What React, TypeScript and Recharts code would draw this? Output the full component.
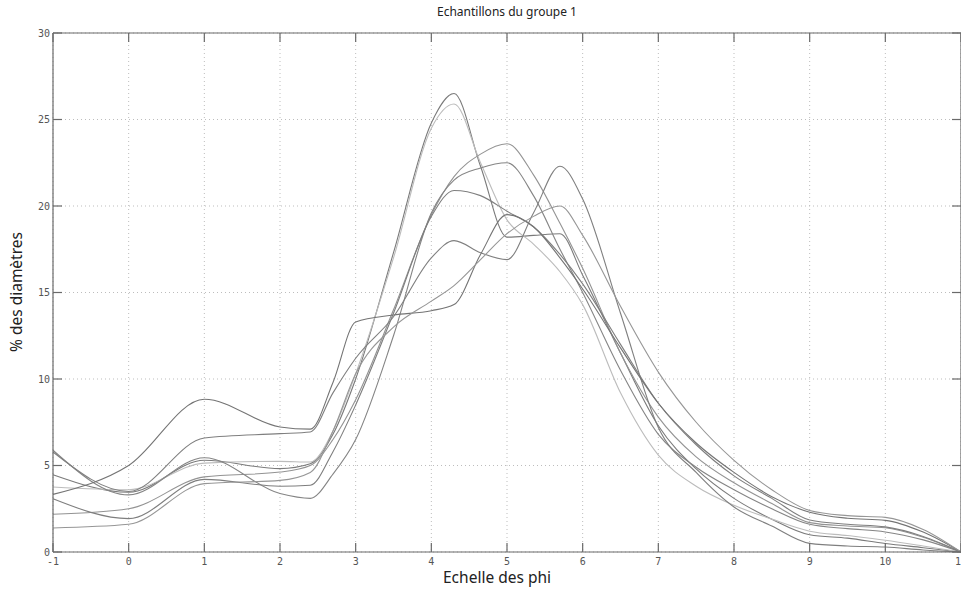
import { LineChart, Line, XAxis, YAxis, CartesianGrid, ReferenceLine } from "recharts"

// échelle des phi (points communs à tous les échantillons)
const PHI = [-1, 0, 1, 2, 2.4, 2.7, 3, 3.5, 4, 4.3, 4.65, 5, 5.35, 5.7, 6, 6.5, 7, 7.5, 8, 8.5, 9, 9.5, 10, 10.5, 11]

const X_TICKS = [-1, 0, 1, 2, 3, 4, 5, 6, 7, 8, 9, 10, 11]
const Y_TICKS = [0, 5, 10, 15, 20, 25, 30]

// % des diamètres, un tableau par échantillon
const S1 = [4.47, 3.45, 5.3, 4.82, 5.1, 6.8, 10.0, 17.3, 24.8, 26.5, 22.3, 18.2, 18.3, 18.4, 16.0, 11.5, 7.3, 4.8, 3.1, 1.9, 1.0, 0.8, 0.49, 0.25, 0]
const S2 = [3.76, 3.6, 5.14, 5.24, 5.2, 7.0, 10.3, 17.0, 24.5, 25.9, 22.5, 19.2, 17.8, 16.2, 14.3, 9.2, 5.6, 3.8, 2.7, 1.9, 1.2, 0.95, 0.68, 0.35, 0]
const S3 = [2.18, 2.5, 4.34, 4.62, 5.0, 6.5, 8.8, 14.0, 19.5, 21.7, 23.0, 23.6, 21.8, 19.0, 16.4, 11.5, 7.8, 5.5, 4.0, 2.8, 1.7, 1.5, 1.4, 0.85, 0]
const S4 = [5.88, 3.3, 5.45, 3.38, 3.1, 4.5, 6.5, 12.5, 19.6, 21.5, 22.2, 22.5, 20.6, 17.5, 15.0, 10.5, 6.8, 4.9, 3.6, 2.5, 1.6, 1.35, 1.16, 0.7, 0]
const S5 = [3.08, 1.93, 4.2, 3.8, 3.86, 5.8, 8.5, 13.8, 19.4, 20.9, 20.6, 19.7, 18.8, 17.2, 15.5, 12.0, 8.6, 6.2, 4.4, 3.1, 1.85, 1.6, 1.45, 0.9, 0]
const S6 = [5.78, 3.5, 6.59, 6.84, 6.94, 9.2, 11.2, 13.6, 17.0, 18.0, 17.3, 16.9, 19.6, 22.3, 20.4, 13.8, 7.2, 4.6, 2.6, 1.5, 0.5, 0.35, 0.29, 0.12, 0]
const S7 = [3.33, 5.0, 8.83, 7.23, 7.1, 9.8, 13.3, 13.7, 13.95, 14.3, 17.2, 19.5, 18.8, 17.0, 15.2, 11.8, 8.6, 6.3, 4.6, 3.2, 2.3, 1.95, 1.83, 1.15, 0]
const S8 = [1.39, 1.6, 3.95, 4.14, 4.6, 7.0, 10.3, 13.0, 14.5, 15.4, 16.9, 18.4, 19.4, 20.0, 18.3, 14.2, 10.4, 7.5, 5.3, 3.6, 2.4, 2.1, 2.0, 1.3, 0]

const SERIES = [
  { key: "s1", values: S1, color: "#7a7a7a" },
  { key: "s2", values: S2, color: "#bcbcbc" },
  { key: "s3", values: S3, color: "#939393" },
  { key: "s4", values: S4, color: "#858585" },
  { key: "s5", values: S5, color: "#7e7e7e" },
  { key: "s6", values: S6, color: "#7f7f7f" },
  { key: "s7", values: S7, color: "#747474" },
  { key: "s8", values: S8, color: "#969696" },
]

const rows = PHI.map((p, i) => {
  const row: Record<string, number> = { phi: p }
  SERIES.forEach((s) => (row[s.key] = s.values[i]))
  return row
})

const TOP = 33
const BOTTOM = 552
const LEFT = 53
const RIGHT = 961
const AXIS = "#6a6a6a"
const TICK_FONT = "'DejaVu Sans Mono', monospace"

const XTick = (props: any) => {
  const { x, payload } = props
  return (
    <g>
      <line x1={x} x2={x} y1={BOTTOM} y2={BOTTOM - 9} stroke={AXIS} strokeWidth={1.2} />
      <line x1={x} x2={x} y1={TOP} y2={TOP + 9} stroke={AXIS} strokeWidth={1.2} />
      <text x={x} y={565} textAnchor="middle" fontFamily={TICK_FONT} fontSize={10} fill="#555">
        {payload.value}
      </text>
    </g>
  )
}

const YTick = (props: any) => {
  const { y, payload } = props
  return (
    <g>
      <line x1={LEFT} x2={LEFT + 9} y1={y} y2={y} stroke={AXIS} strokeWidth={1.2} />
      <line x1={RIGHT} x2={RIGHT - 9} y1={y} y2={y} stroke={AXIS} strokeWidth={1.2} />
      <text x={50} y={y} dy={3.5} textAnchor="end" fontFamily={TICK_FONT} fontSize={10} fill="#555">
        {payload.value}
      </text>
    </g>
  )
}

export default function App() {
  return (
    <div
      style={{
        position: "fixed",
        left: 0,
        top: 0,
        width: 961,
        height: 592,
        overflow: "hidden",
        background: "#fff",
        fontFamily: "'Noto Sans', sans-serif",
      }}
    >
      <LineChart width={1000} height={592} data={rows} margin={{ top: TOP, right: 39, bottom: 0, left: 0 }}>
        <CartesianGrid strokeDasharray="1 3" stroke="#bdbdbd" />
        <XAxis
          dataKey="phi"
          type="number"
          domain={[-1, 11]}
          ticks={X_TICKS}
          height={40}
          stroke={AXIS}
          strokeWidth={1.2}
          tickLine={false}
          tick={XTick}
          interval={0}
        />
        <YAxis
          type="number"
          domain={[0, 30]}
          ticks={Y_TICKS}
          width={53}
          stroke={AXIS}
          strokeWidth={1.2}
          tickLine={false}
          tick={YTick}
          interval={0}
        />
        <ReferenceLine y={30} stroke={AXIS} strokeWidth={1.2} />
        <ReferenceLine x={11} stroke={AXIS} strokeWidth={1.2} />
        {SERIES.map((s) => (
          <Line
            key={s.key}
            dataKey={s.key}
            type="monotone"
            stroke={s.color}
            strokeWidth={1.1}
            dot={false}
            activeDot={false}
            isAnimationActive={false}
          />
        ))}
      </LineChart>
      <div style={{ position: "absolute", left: 0, width: 1014, top: 4, lineHeight: "16px", textAlign: "center", fontSize: 12, color: "#222" }}>
        Echantillons du groupe 1
      </div>
      <div style={{ position: "absolute", left: 0, width: 994, top: 569, lineHeight: "17px", textAlign: "center", fontSize: 15.5, color: "#222" }}>
        Echelle des phi
      </div>
      <div
        style={{
          position: "absolute",
          left: 16,
          top: 292,
          transform: "translate(-50%, -50%) rotate(-90deg)",
          whiteSpace: "nowrap",
          lineHeight: "17px",
          fontSize: 15.5,
          color: "#222",
        }}
      >
        % des diamètres
      </div>
    </div>
  )
}
